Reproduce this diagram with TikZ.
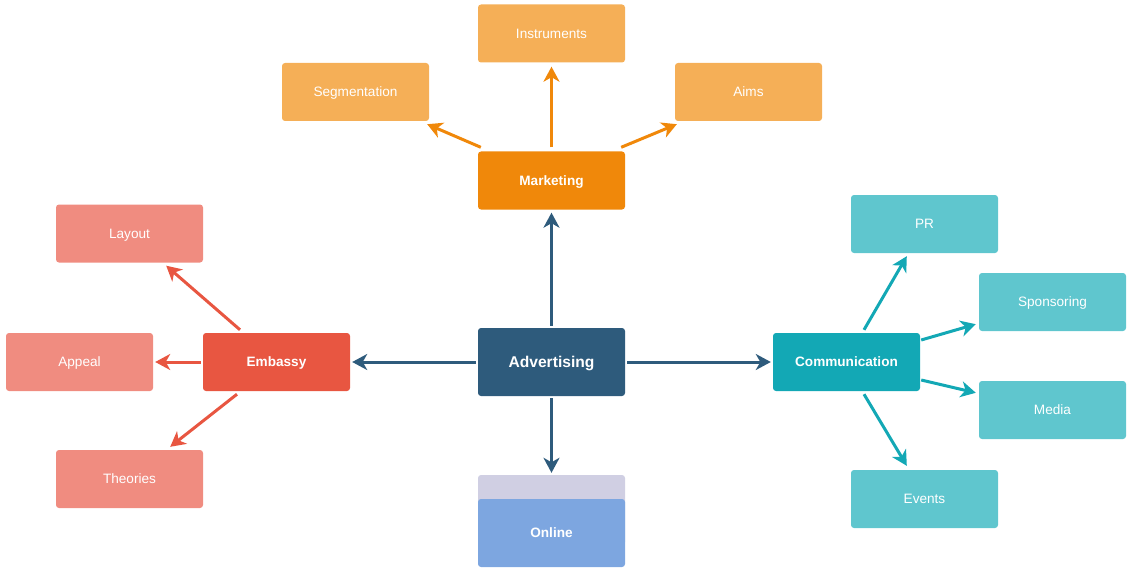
\documentclass[tikz,border=0pt]{standalone}
\usepackage{fontspec}
\setmainfont{Liberation Sans}
\usetikzlibrary{arrows.meta,calc}
\definecolor{cAd}{HTML}{2E5B7C}
\definecolor{cMk}{HTML}{F0880A}
\definecolor{cMkL}{HTML}{F5AF57}
\definecolor{cEm}{HTML}{E85641}
\definecolor{cEmL}{HTML}{F08C80}
\definecolor{cCo}{HTML}{13A8B5}
\definecolor{cCoL}{HTML}{5FC6CE}
\definecolor{cOn}{HTML}{7DA6E0}
\definecolor{cOnL}{HTML}{D0CFE3}
\tikzset{
  box/.style={rounded corners=3pt, minimum width=147pt, minimum height=58pt, inner sep=0pt, text=white, text height=9.8pt, text depth=0pt, font=\fontsize{13.6}{16}\selectfont},
  mainbox/.style={box, font=\bfseries\fontsize{13.6}{16}\selectfont},
  arr/.style={line width=3pt, -{Stealth[length=15pt,width=16pt,inset=4.5pt]}},
}
\begin{document}
\begin{tikzpicture}[x=1pt,y=-1pt]
\useasboundingbox (0,0) rectangle (1138,575);
% central
\node[box, fill=cAd, minimum height=68pt, text height=11.2pt, font=\bfseries\fontsize{15.6}{18}\selectfont] (ad) at (551.5,362) {Advertising};
% marketing
\node[mainbox, fill=cMk] (mk) at (551.5,180.5) {Marketing};
\node[box, fill=cMkL] (ins) at (551.5,33.5) {Instruments};
\node[box, fill=cMkL] (seg) at (355.5,92) {Segmentation};
\node[box, fill=cMkL] (aims) at (748.5,92) {Aims};
% embassy
\node[mainbox, fill=cEm] (em) at (276.5,362) {Embassy};
\node[box, fill=cEmL] (lay) at (129.5,233.5) {Layout};
\node[box, fill=cEmL] (app) at (79.5,362) {Appeal};
\node[box, fill=cEmL] (the) at (129.5,479) {Theories};
% communication
\node[mainbox, fill=cCo] (co) at (846.5,362) {Communication};
\node[box, fill=cCoL] (pr) at (924.5,224) {PR};
\node[box, fill=cCoL] (spo) at (1052.5,302) {Sponsoring};
\node[box, fill=cCoL] (med) at (1052.5,410) {Media};
\node[box, fill=cCoL] (ev) at (924.5,499) {Events};
% online
\node[rounded corners=3pt, fill=cOnL, minimum width=147pt, minimum height=70pt, inner sep=0pt] (onb) at (551.5,510) {};
\node[mainbox, fill=cOn, minimum height=68pt] (on) at (551.5,533) {Online};
% arrows from advertising
\draw[arr, cAd] ($(ad.north)+(0,-2)$) -- ($(mk.south)+(0,3)$);
\draw[arr, cAd] ($(ad.west)+(-2,0)$) -- ($(em.east)+(2,0)$);
\draw[arr, cAd] ($(ad.east)+(2,0)$) -- ($(co.west)+(-2,0)$);
\draw[arr, cAd] ($(ad.south)+(0,2)$) -- ($(onb.north)+(0,-2)$);
% marketing
\draw[arr, cMk] ($(mk.north west)+(3,-4)$) -- ($(seg.south east)+(-2,3)$);
\draw[arr, cMk] ($(mk.north)+(0,-4)$) -- ($(ins.south)+(0,4)$);
\draw[arr, cMk] ($(mk.north east)+(-4,-4)$) -- ($(aims.south west)+(2,3)$);
% embassy
\draw[arr, cEm] ($(em.north)+(-36.5,-3)$) -- ($(lay.south east)+(-37,3)$);
\draw[arr, cEm] ($(em.west)+(-2,0)$) -- ($(app.east)+(2,0)$);
\draw[arr, cEm] ($(em.south)+(-39.5,3)$) -- ($(the.north east)+(-33,-3)$);
% communication
\draw[arr, cCo] ($(co.north)+(17.5,-3)$) -- ($(pr.south west)+(56,3)$);
\draw[arr, cCo] ($(co.east)+(1,-22)$) -- ($(spo.south west)+(-3,-7)$);
\draw[arr, cCo] ($(co.east)+(1,18)$) -- ($(med.north west)+(-3,12)$);
\draw[arr, cCo] ($(co.south)+(17.5,3)$) -- ($(ev.north west)+(56,-4)$);
\end{tikzpicture}
\end{document}
